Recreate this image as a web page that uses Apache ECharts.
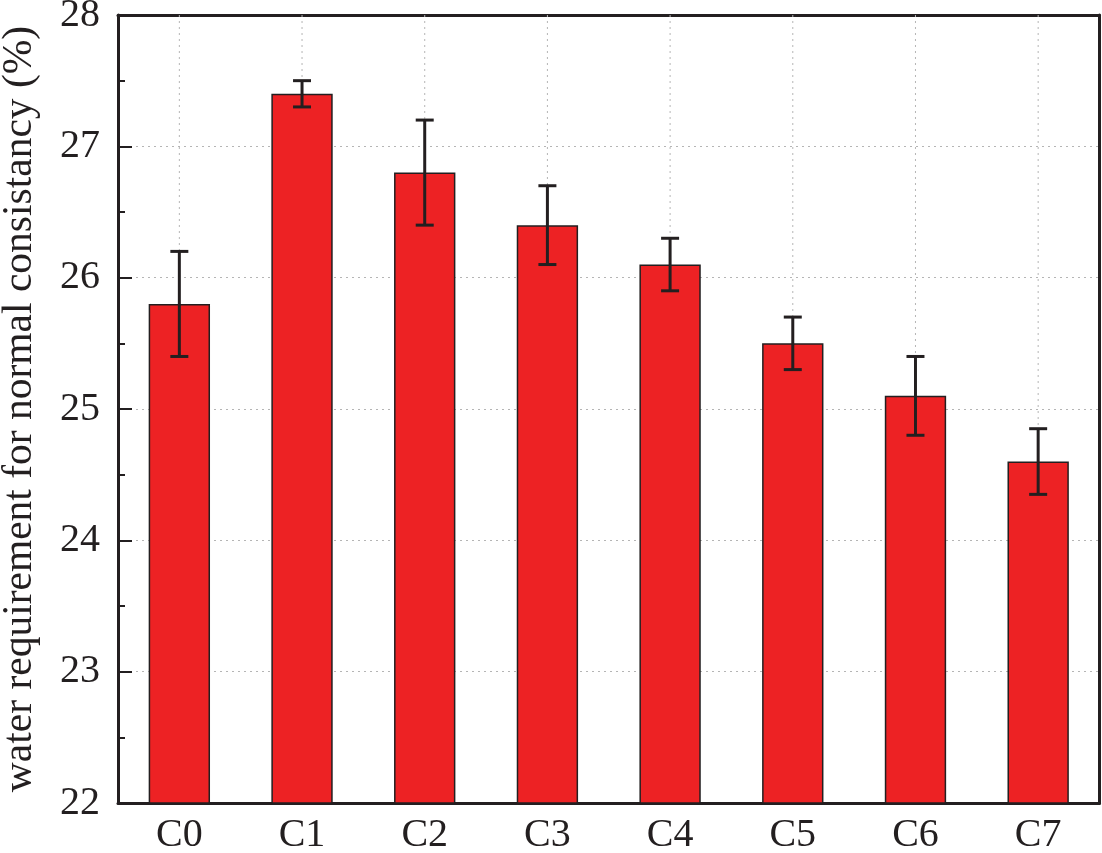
<!DOCTYPE html>
<html>
<head>
<meta charset="utf-8">
<script src="https://cdn.jsdelivr.net/npm/echarts@6/dist/echarts.min.js"></script>
<style>html,body{margin:0;padding:0;background:#fff;}#c{width:1102px;height:853px;}</style>
</head>
<body>
<div id="c"></div>
<script>
const categories = ['C0','C1','C2','C3','C4','C5','C6','C7'];
const values = [25.8, 27.4, 26.8, 26.4, 26.1, 25.5, 25.1, 24.6];
const errLow = [25.4, 27.3, 26.4, 26.1, 25.9, 25.3, 24.8, 24.35];
const errHigh = [26.2, 27.5, 27.2, 26.7, 26.3, 25.7, 25.4, 24.85];
const yTicks = [22, 23, 24, 25, 26, 27, 28];

const FONT = 'Liberation Serif';
const AX = '#231f20';
const chart = echarts.init(document.getElementById('c'));
const errData = categories.map((c, i) => [i, errLow[i], errHigh[i]]);

chart.setOption({
  animation: false,
  grid: { left: 118, right: 2.5, top: 15, bottom: 50, containLabel: false, outerBoundsMode: 'none' },
  xAxis: [
    {
      type: 'category', data: categories, position: 'bottom',
      axisLine: { lineStyle: { color: AX, width: 3 } },
      axisTick: { inside: true, alignWithLabel: true, length: 12, lineStyle: { color: AX, width: 2 } },
      axisLabel: { fontFamily: FONT, fontSize: 40, color: '#231f20', margin: 12 },
      splitLine: { show: false }
    },
    {
      type: 'category', data: categories, position: 'bottom', gridIndex: 0,
      axisLine: { show: false },
      axisTick: { inside: true, length: 6, lineStyle: { color: AX, width: 2 } },
      axisLabel: { show: false }
    },
    {
      type: 'category', data: categories, position: 'top',
      axisLine: { lineStyle: { color: AX, width: 3 } },
      axisTick: { show: false }, axisLabel: { show: false }
    }
  ],
  yAxis: [
    {
      type: 'value', min: yTicks[0], max: yTicks[yTicks.length - 1], interval: 1,
      name: 'water requirement for normal consistancy (%)',
      nameLocation: 'middle', nameGap: 77,
      nameTextStyle: { fontFamily: FONT, fontSize: 41.5, color: '#231f20' },
      axisLine: { show: true, lineStyle: { color: AX, width: 3 } },
      axisTick: { show: true, inside: true, length: 14, lineStyle: { color: AX, width: 2 } },
      minorTick: { show: true, splitNumber: 2, length: 7, lineStyle: { color: AX, width: 2 } },
      axisLabel: { fontFamily: FONT, fontSize: 40, color: '#231f20', margin: 18 },
      splitLine: { show: true, lineStyle: { color: '#b5b5b5', width: 1, type: [2, 4] } }
    },
    {
      type: 'value', min: yTicks[0], max: yTicks[yTicks.length - 1], position: 'right',
      axisLine: { show: true, lineStyle: { color: AX, width: 3 } },
      axisTick: { show: false }, axisLabel: { show: false }, splitLine: { show: false }
    }
  ],
  series: [
    {
      type: 'bar', data: values, barWidth: '50%', xAxisIndex: 0, yAxisIndex: 0,
      itemStyle: { color: '#ed2224', borderColor: '#231f20', borderWidth: 1.5 },
      z: 3
    },
    {
      type: 'custom', xAxisIndex: 0, yAxisIndex: 0, data: errData, z: 4,
      renderItem: function (params, api) {
        const x = api.value(0);
        const lo = api.coord([x, api.value(1)]);
        const hi = api.coord([x, api.value(2)]);
        const hw = 9;
        const st = { stroke: '#231f20', lineWidth: 3 };
        return {
          type: 'group',
          children: [
            { type: 'line', shape: { x1: lo[0], y1: lo[1], x2: hi[0], y2: hi[1] }, style: st },
            { type: 'line', shape: { x1: hi[0] - hw, y1: hi[1], x2: hi[0] + hw, y2: hi[1] }, style: st },
            { type: 'line', shape: { x1: lo[0] - hw, y1: lo[1], x2: lo[0] + hw, y2: lo[1] }, style: st }
          ]
        };
      }
    },
    {
      type: 'custom', xAxisIndex: 0, yAxisIndex: 0, z: 1, silent: true,
      data: categories.map((c, i) => [i]),
      renderItem: function (params, api) {
        const top = api.coord([api.value(0), yTicks[yTicks.length - 1]]);
        const bot = api.coord([api.value(0), yTicks[0]]);
        return { type: 'line', shape: { x1: top[0], y1: top[1], x2: bot[0], y2: bot[1] },
          style: { stroke: '#b5b5b5', lineWidth: 1, lineDash: [2, 4] } };
      }
    }
  ]
});
</script>
</body>
</html>
